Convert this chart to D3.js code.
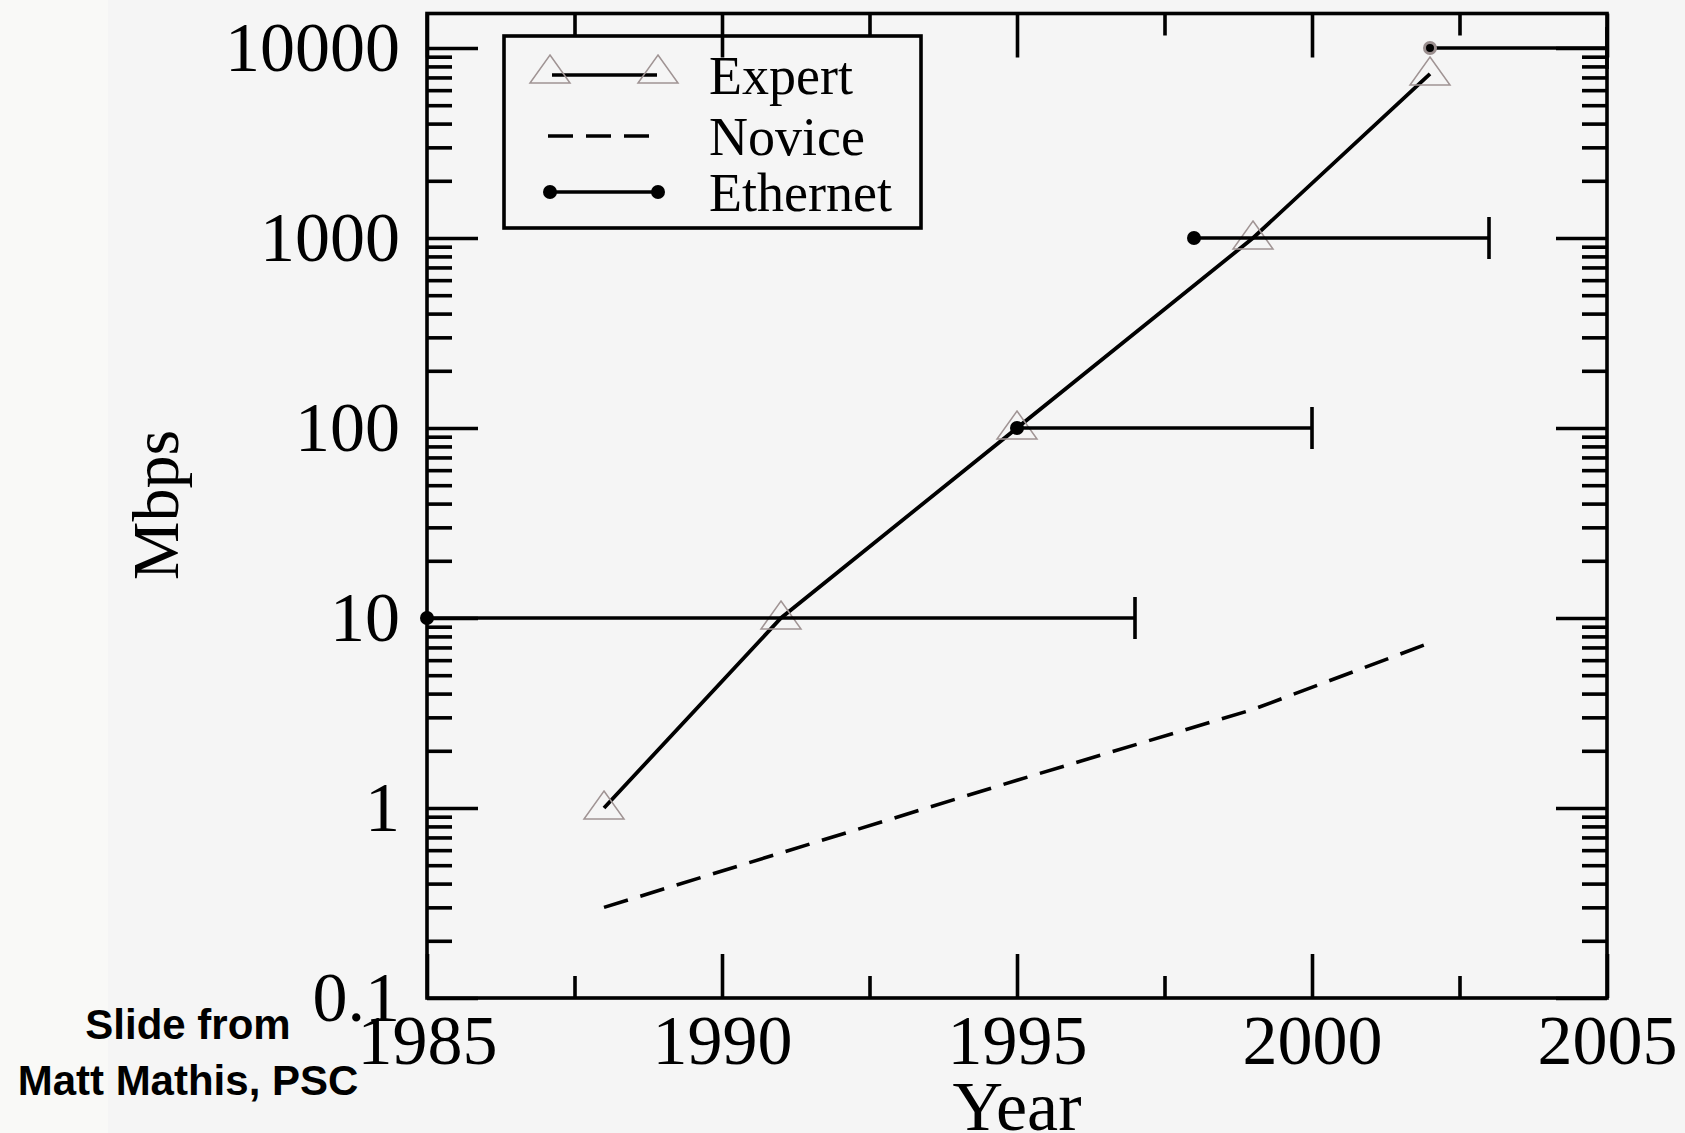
<!DOCTYPE html>
<html>
<head>
<meta charset="utf-8">
<script src="https://cdn.jsdelivr.net/npm/d3@7"></script>
<style>
  body { margin: 0; background: #f5f5f5; }
  svg { display: block; }
</style>
</head>
<body>
<div id="chart"></div>
<script>
// data
var xTicks = [1985, 1990, 1995, 2000, 2005];
var xMinor = [1987.5, 1992.5, 1997.5, 2002.5];
var yTicks = [0.1, 1, 10, 100, 1000, 10000];

var expertYears = [1988, 1991, 1995, 1999, 2002];
var expertMbps  = [1, 10, 100, 1000, 7300];

var noviceYears = [1988, 1995, 1999, 2002];
var noviceMbps  = [0.3, 1.4, 3.3, 7.4];

var ethernetStart = [1985, 1995, 1998, 2002];
var ethernetEnd   = [1997, 2000, 2003, 2005];
var ethernetMbps  = [10, 100, 1000, 10000];

var legendNames = ["Expert", "Novice", "Ethernet"];

var width = 1685, height = 1133,
    serif = "'Liberation Serif', 'Times New Roman', serif";

var svg = d3.select("#chart").append("svg")
    .attr("width", width)
    .attr("height", height);

svg.append("rect")
    .attr("width", width).attr("height", height)
    .style("fill", "#f5f5f5");
svg.append("rect")
    .attr("width", 108).attr("height", height)
    .style("fill", "#f9f9f7");

var x = d3.scaleLinear().domain([1985, 2005]).range([427, 1607]);
var y = d3.scaleLog().domain([0.1, 10000]).range([998, 48]);
var frameTop = 13.5;

// minor ticks on the log axis: 2..9 in every decade
var yMinor = [];
yTicks.slice(0, -1).forEach(function(d){
  for (var k = 2; k <= 9; k++) yMinor.push(d * k);
});

function styleAxis(g) {
  g.select(".domain").remove();
  g.selectAll(".tick line").style("stroke", "#000").style("stroke-width", 3.6);
  g.selectAll("text")
    .style("font-family", serif)
    .style("font-size", "70px")
    .style("fill", "#000");
}

// left axis
svg.append("g")
    .attr("transform", "translate(" + x(1985) + ",0)")
    .call(d3.axisLeft(y).tickValues(yTicks).tickSize(-51).tickPadding(27)
      .tickFormat(function(d){ return d < 1 ? "0.1" : d3.format("d")(d); }))
    .call(styleAxis);
svg.append("g")
    .attr("transform", "translate(" + x(1985) + ",0)")
    .call(d3.axisLeft(y).tickValues(yMinor).tickSize(-25).tickFormat(""))
    .call(styleAxis);

// right axis
svg.append("g")
    .attr("transform", "translate(" + x(2005) + ",0)")
    .call(d3.axisRight(y).tickValues(yTicks).tickSize(-51).tickFormat(""))
    .call(styleAxis);
svg.append("g")
    .attr("transform", "translate(" + x(2005) + ",0)")
    .call(d3.axisRight(y).tickValues(yMinor).tickSize(-25).tickFormat(""))
    .call(styleAxis);

// bottom axis
svg.append("g")
    .attr("transform", "translate(0," + y(0.1) + ")")
    .call(d3.axisBottom(x).tickValues(xTicks).tickSize(-44).tickPadding(16)
      .tickFormat(d3.format("d")))
    .call(styleAxis);
svg.append("g")
    .attr("transform", "translate(0," + y(0.1) + ")")
    .call(d3.axisBottom(x).tickValues(xMinor).tickSize(-22).tickFormat(""))
    .call(styleAxis);

// top axis
svg.append("g")
    .attr("transform", "translate(0," + frameTop + ")")
    .call(d3.axisTop(x).tickValues(xTicks).tickSize(-44).tickFormat(""))
    .call(styleAxis);
svg.append("g")
    .attr("transform", "translate(0," + frameTop + ")")
    .call(d3.axisTop(x).tickValues(xMinor).tickSize(-22).tickFormat(""))
    .call(styleAxis);

// frame
svg.append("rect")
    .attr("x", x(1985)).attr("y", frameTop)
    .attr("width", x(2005) - x(1985))
    .attr("height", y(0.1) - frameTop)
    .style("fill", "none")
    .style("stroke", "#000")
    .style("stroke-width", 3.6);

var triangle = "M0,-17L20,11L-20,11Z";

// expert
var expert = expertYears.map(function(d, i){ return {year: d, v: expertMbps[i]}; });
svg.append("path")
    .datum(expert)
    .attr("d", d3.line().x(function(d){ return x(d.year); }).y(function(d){ return y(d.v); }))
    .style("fill", "none")
    .style("stroke", "#000")
    .style("stroke-width", 3.8);
svg.selectAll(".tri")
    .data(expert)
    .enter().append("path")
    .attr("class", "tri")
    .attr("transform", function(d){ return "translate(" + x(d.year) + "," + y(d.v) + ")"; })
    .attr("d", triangle)
    .style("fill", "none")
    .style("stroke", "#a09494")
    .style("stroke-width", 1.5);

// novice
var novice = noviceYears.map(function(d, i){ return {year: d, v: noviceMbps[i]}; });
svg.append("path")
    .datum(novice)
    .attr("d", d3.line().x(function(d){ return x(d.year); }).y(function(d){ return y(d.v); }))
    .style("fill", "none")
    .style("stroke", "#000")
    .style("stroke-width", 3.6)
    .style("stroke-dasharray", "25,13");

// ethernet
var eth = ethernetMbps.map(function(d, i){
  return {v: d, start: ethernetStart[i], end: ethernetEnd[i]};
});
var ethG = svg.selectAll(".eth")
    .data(eth)
    .enter().append("g")
    .attr("class", "eth");
ethG.append("line")
    .attr("x1", function(d){ return x(d.start); })
    .attr("x2", function(d){ return x(d.end); })
    .attr("y1", function(d){ return y(d.v); })
    .attr("y2", function(d){ return y(d.v); })
    .style("stroke", "#000")
    .style("stroke-width", 3.4);
ethG.append("line")
    .attr("x1", function(d){ return x(d.end); })
    .attr("x2", function(d){ return x(d.end); })
    .attr("y1", function(d){ return y(d.v) - 21; })
    .attr("y2", function(d){ return y(d.v) + 21; })
    .style("stroke", "#000")
    .style("stroke-width", 3.6);
ethG.append("circle")
    .attr("cx", function(d){ return x(d.start); })
    .attr("cy", function(d){ return y(d.v); })
    .attr("r", function(d){ return d.v >= 10000 ? 5.5 : 7; })
    .style("fill", "#000")
    .style("stroke", function(d){ return d.v >= 10000 ? "#9a8e8e" : "none"; })
    .style("stroke-width", 3);

// legend
var legend = svg.append("g");
legend.append("rect")
    .attr("x", 504).attr("y", 36)
    .attr("width", 417).attr("height", 192)
    .style("fill", "none")
    .style("stroke", "#000")
    .style("stroke-width", 3.6);

var rowY = [75, 136, 192];
legend.selectAll(".ltext")
    .data(legendNames)
    .enter().append("text")
    .attr("x", 709)
    .attr("y", function(d, i){ return rowY[i]; })
    .attr("dy", "0.35em")
    .text(function(d){ return d; })
    .style("font-family", serif)
    .style("font-size", "54px")
    .style("fill", "#000");

legend.append("line")
    .attr("x1", 552).attr("x2", 657)
    .attr("y1", rowY[0]).attr("y2", rowY[0])
    .style("stroke", "#000").style("stroke-width", 3.4);
legend.selectAll(".ltri")
    .data([550, 658])
    .enter().append("path")
    .attr("transform", function(d){ return "translate(" + d + "," + (rowY[0] - 3) + ")"; })
    .attr("d", triangle)
    .style("fill", "none")
    .style("stroke", "#a09494")
    .style("stroke-width", 1.5);

legend.append("line")
    .attr("x1", 548).attr("x2", 658)
    .attr("y1", rowY[1]).attr("y2", rowY[1])
    .style("stroke", "#000").style("stroke-width", 3.4)
    .style("stroke-dasharray", "25,13");

legend.append("line")
    .attr("x1", 550).attr("x2", 658)
    .attr("y1", rowY[2]).attr("y2", rowY[2])
    .style("stroke", "#000").style("stroke-width", 3.4);
legend.selectAll(".ldot")
    .data([550, 658])
    .enter().append("circle")
    .attr("cx", function(d){ return d; })
    .attr("cy", rowY[2])
    .attr("r", 7)
    .style("fill", "#000");

// axis titles
svg.append("text")
    .attr("x", (x(1985) + x(2005)) / 2)
    .attr("y", 1130)
    .attr("text-anchor", "middle")
    .text("Year")
    .style("font-family", serif)
    .style("font-size", "70px")
    .style("fill", "#000");

svg.append("text")
    .attr("transform", "translate(178,505) rotate(-90)")
    .attr("text-anchor", "middle")
    .text("Mbps")
    .style("font-family", serif)
    .style("font-size", "66px")
    .style("fill", "#000");

// credit
svg.append("text")
    .attr("x", 188).attr("y", 1039)
    .attr("text-anchor", "middle")
    .text("Slide from")
    .style("font-family", "'Liberation Sans', Arial, sans-serif")
    .style("font-weight", "bold")
    .style("font-size", "42px")
    .style("fill", "#000");
svg.append("text")
    .attr("x", 188).attr("y", 1095)
    .attr("text-anchor", "middle")
    .text("Matt Mathis, PSC")
    .style("font-family", "'Liberation Sans', Arial, sans-serif")
    .style("font-weight", "bold")
    .style("font-size", "42px")
    .style("fill", "#000");
</script>
</body>
</html>
